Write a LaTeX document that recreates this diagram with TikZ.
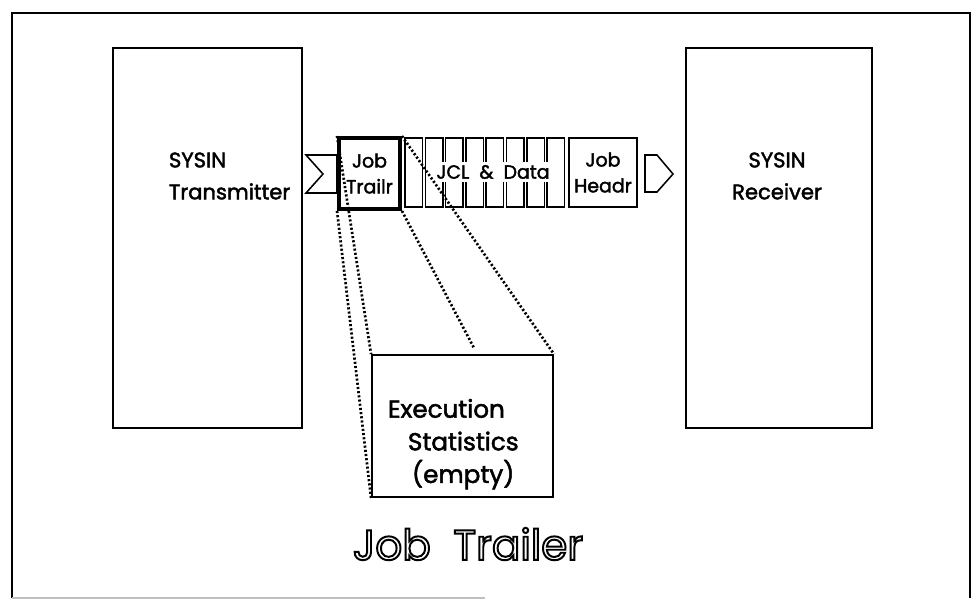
\documentclass[tikz,border=0pt]{standalone}
\usepackage{fontspec}
\setmainfont{Poppins}[FakeBold=2]
\newfontfamily\titlefont{Poppins}
\newcommand{\outlined}[1]{\special{pdf:literal direct 1 Tr 1.4 w}#1\special{pdf:literal direct 0 Tr}}

\begin{document}
\begin{tikzpicture}[x=0.025cm,y=-0.025cm,
  box/.style={draw,line width=1.3pt,inner sep=0pt},
  slot/.style={draw,line width=1.1pt},
  dots/.style={line width=1.9pt,dash pattern=on 1.5pt off 1.5pt},
  biglbl/.style={font=\fontsize{15}{22.7}\selectfont},
  statlbl/.style={font=\fontsize{17.5}{23.2}\selectfont},
  smalllbl/.style={font=\fontsize{13.5}{18.4}\selectfont,align=center}]
  \useasboundingbox (0,0) rectangle (974,601);
  \node[font=\titlefont\fontsize{30}{36}\selectfont] (title) at (468,544) {\outlined{Job\ \ Trailer}};
  \draw[line width=2pt] (12,598) |- (970,13) -- (970,598);
  \draw[gray!50,line width=1.5pt] (12,598) -- (485,598);

  % transmitter and receiver
  \node[box,minimum width=4.725cm,minimum height=9.5cm] (tx) at (207.5,238) {};
  \node[biglbl,anchor=west,align=left] (txtext) at (164,176) {SYSIN\\Transmitter};
  \node[box,minimum width=4.65cm,minimum height=9.5cm] (rx) at (779,238) {};
  \node[biglbl,align=center] (rxtext) at (777,176) {SYSIN\\Receiver};

  % the queue of records
  \draw[line width=1.1pt] (306,155) -- (337,155) -- (337,193) -- (306,193) -- (323,174) -- cycle;
  \node[box,line width=2.8pt,minimum width=1.525cm,minimum height=1.775cm,smalllbl] (trailr) at (369.5,173.5) {Job\\Trailr};
  \foreach \i in {0,...,7}
    \draw[slot] (405+20.3*\i,138) rectangle (422.5+20.3*\i,207);
  \node[smalllbl,fill=white,inner sep=2pt] (jcl) at (493,172) {JCL\ \ \&\ \ Data};
  \node[box,minimum width=1.7cm,minimum height=1.725cm,smalllbl] (headr) at (603,172.5) {Job\\Headr};
  \draw[line width=1.1pt] (645,155) -- (657,155) -- (673,174) -- (657,192) -- (645,192) -- cycle;

  % zoom into the trailer
  \node[box,minimum width=4.525cm,minimum height=3.55cm] (stats) at (462.5,426) {};
  \node[statlbl,anchor=north west,align=left] (statstext) at (383,394) {Execution\\\hspace*{0.5cm}Statistics\\\hspace*{0.6cm}(empty)};
  \coordinate (mid) at (474,348);
  \draw[dots] (trailr.south west) -- (stats.south west);
  \draw[dots] (trailr.north west) -- (stats.north west);
  \draw[dots] (trailr.south east) -- (mid);
  \draw[dots] (trailr.north east) -- (stats.north east);
\end{tikzpicture}
\end{document}
